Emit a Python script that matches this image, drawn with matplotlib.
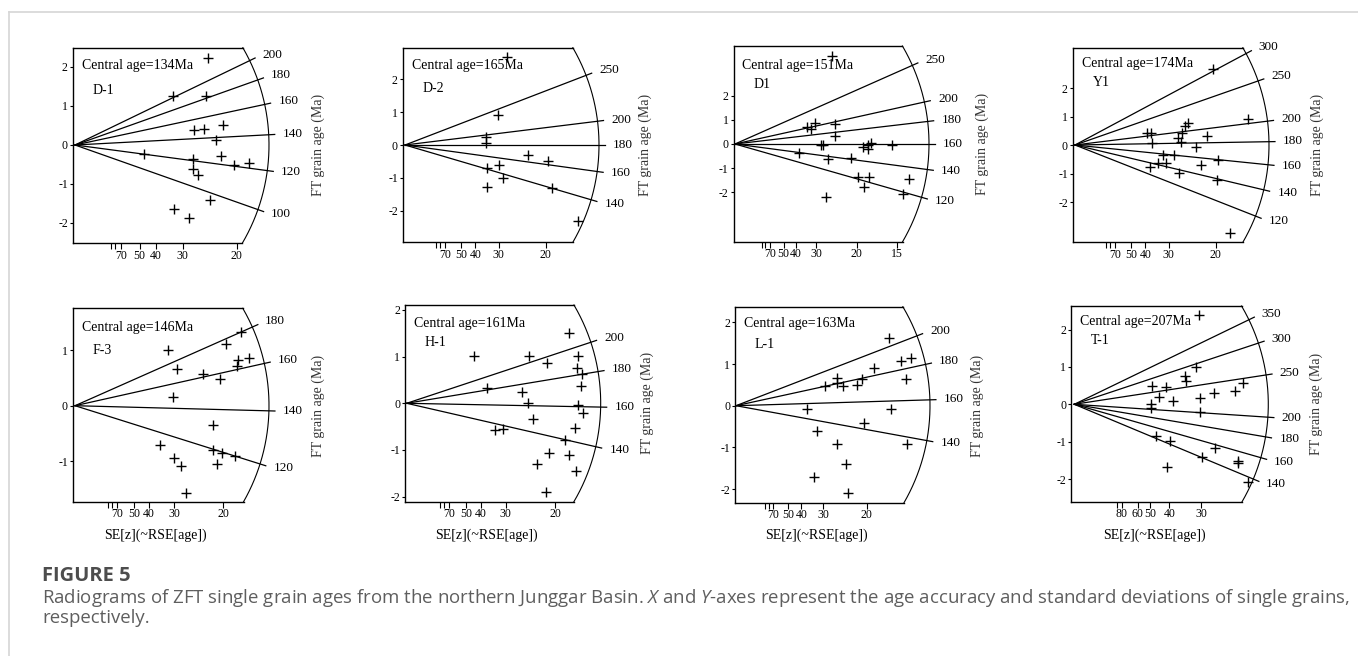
import numpy as np
import matplotlib
matplotlib.use("Agg")
import matplotlib.pyplot as plt
from matplotlib.lines import Line2D

W, H = 1358, 656

# samples, central ages and the reference age the radial scale is centred on
samples = ["D-1", "D-2", "D1", "Y1", "F-3", "H-1", "L-1", "T-1"]
central_ages = [134, 165, 151, 174, 146, 161, 163, 207]
ref_ages = [134, 180, 160, 177, 142, 162, 157, 214]

# age rays of each radial scale (Ma)
age_lines = [
    [200, 180, 160, 140, 120, 100],
    [250, 200, 180, 160, 140],
    [250, 200, 180, 160, 140, 120],
    [300, 250, 200, 180, 160, 140, 120],
    [180, 160, 140, 120],
    [200, 180, 160, 140],
    [200, 180, 160, 140],
    [350, 300, 250, 200, 180, 160, 140],
]

# SE[z] ticks in %, blank label = unlabeled tick
se_ticks = [
    [90, 80, 70, 50, 40, 30, 20],
    [90, 80, 70, 50, 40, 30, 20],
    [90, 80, 70, 50, 40, 30, 20, 15],
    [90, 80, 70, 50, 40, 30, 20],
    [90, 80, 70, 50, 40, 30, 20],
    [90, 80, 70, 50, 40, 30, 20],
    [90, 80, 70, 50, 40, 30, 20],
    [90, 80, 60, 50, 40, 30],
]
se_labels = [
    ["", "", "70", "50", "40", "30", "20"],
    ["", "", "70", "50", "40", "30", "20"],
    ["", "", "70", "50", "40", "30", "20", "15"],
    ["", "", "70", "50", "40", "30", "20"],
    ["", "", "70", "50", "40", "30", "20"],
    ["", "", "70", "50", "40", "30", "20"],
    ["", "", "70", "50", "40", "30", "20"],
    ["", "80", "60", "50", "40", "30"],
]
y_ticks = [
    [-2, -1, 0, 1, 2], [-2, -1, 0, 1, 2], [-2, -1, 0, 1, 2], [-2, -1, 0, 1, 2],
    [-1, 0, 1], [-2, -1, 0, 1, 2], [-2, -1, 0, 1, 2], [-2, -1, 0, 1, 2],
]

# single grains: precision (100/SE%) and standardised estimate
d_1_x = [4.10, 3.02, 4.05, 3.68, 3.99, 4.57, 4.36, 2.14, 3.64, 4.52, 3.64, 3.81, 4.93, 5.39, 4.18, 3.06, 3.53]
d_1_y = [2.24, 1.26, 1.26, 0.38, 0.41, 0.51, 0.13, -0.23, -0.36, -0.27, -0.62, -0.77, -0.51, -0.45, -1.41, -1.64, -1.88]

d_2_x = [3.62, 3.32, 2.88, 2.88, 4.37, 5.08, 2.91, 3.36, 3.48, 2.91, 5.24, 6.17]
d_2_y = [2.66, 0.91, 0.25, 0.07, -0.30, -0.48, -0.69, -0.61, -1.01, -1.27, -1.32, -2.30]

d1_x = [3.97, 2.95, 3.12, 3.29, 4.11, 4.11, 3.52, 3.63, 2.64, 3.84, 4.75, 5.27, 5.48, 5.58, 5.45, 6.44,
        5.04, 5.51, 5.32, 3.74, 7.16, 6.89]
d1_y = [3.64, 0.72, 0.61, 0.86, 0.83, 0.33, -0.06, -0.06, -0.36, -0.63, -0.59, -0.14, -0.04, 0.03, -0.22, -0.04,
        -1.38, -1.38, -1.77, -2.21, -1.46, -2.08]

y1_x = [4.89, 6.16, 2.55, 2.69, 2.73, 3.91, 4.00, 3.79, 3.67, 3.76, 4.70, 4.29, 3.12, 3.52, 2.96, 3.23,
        2.67, 4.47, 3.71, 5.09, 5.04, 5.51]
y1_y = [2.67, 0.90, 0.43, 0.43, 0.06, 0.67, 0.76, 0.43, 0.23, 0.12, 0.32, -0.08, -0.35, -0.35, -0.64, -0.62,
        -0.76, -0.70, -0.97, -0.53, -1.23, -3.08]

f_3_x = [3.12, 5.60, 5.09, 5.51, 5.87, 5.45, 3.45, 4.30, 4.89, 3.31, 4.66, 2.87, 4.64, 4.94, 5.39, 3.35, 3.56, 4.78, 3.73]
f_3_y = [1.00, 1.32, 1.11, 0.83, 0.86, 0.71, 0.67, 0.58, 0.49, 0.16, -0.35, -0.70, -0.80, -0.86, -0.91, -0.94,
         -1.09, -1.05, -1.57]

h_1_x = [5.48, 2.27, 4.13, 4.72, 5.79, 5.73, 5.92, 5.88, 2.70, 3.88, 4.10, 5.79, 5.93, 4.25, 2.98, 3.24,
         5.67, 5.34, 4.78, 4.38, 5.48, 5.70, 4.70]
h_1_y = [1.50, 1.01, 1.01, 0.86, 1.01, 0.75, 0.62, 0.36, 0.32, 0.24, 0.00, -0.04, -0.20, -0.34, -0.57, -0.54,
         -0.52, -0.79, -1.07, -1.31, -1.11, -1.45, -1.89]

l_1_x = [5.87, 6.30, 6.68, 5.29, 3.85, 3.85, 3.41, 4.08, 4.83, 4.62, 6.49, 2.70, 5.93, 3.09, 4.91, 3.88,
         6.53, 4.21, 3.00, 4.27]
l_1_y = [1.63, 1.08, 1.15, 0.91, 0.67, 0.54, 0.47, 0.47, 0.63, 0.50, 0.63, -0.09, -0.09, -0.60, -0.41, -0.92,
         -0.92, -1.41, -1.70, -2.09]

t_1_x = [3.28, 3.20, 2.91, 2.93, 2.04, 2.41, 4.45, 4.23, 3.68, 2.24, 2.59, 3.31, 2.02, 2.01, 3.31, 2.15,
         2.52, 3.35, 3.70, 4.32, 4.32, 4.56, 2.45]
t_1_y = [2.39, 1.01, 0.76, 0.61, 0.49, 0.45, 0.56, 0.36, 0.31, 0.20, 0.10, 0.16, 0.01, -0.11, -0.20, -0.84,
         -0.97, -1.40, -1.18, -1.52, -1.56, -2.09, -1.68]

grain_x = [d_1_x, d_2_x, d1_x, y1_x, f_3_x, h_1_x, l_1_x, t_1_x]
grain_y = [d_1_y, d_2_y, d1_y, y1_y, f_3_y, h_1_y, l_1_y, t_1_y]

# layout in pixels: origin x, origin y, px per x unit, px per y unit, frame top, bottom, left
panel_px = [
    (75, 145, 32.33, 39.0, 47.7, 243.3, 72.7),
    (405, 145, 28.1, 32.9, 47.7, 242.3, 402.7),
    (735, 144, 24.33, 24.17, 46, 241.7, 733.5),
    (1075, 145, 28.13, 28.5, 47.7, 242.3, 1072.7),
    (75, 405.7, 29.67, 55.5, 308.3, 501.7, 72.7),
    (406.7, 403.3, 29.67, 46.67, 305, 501.7, 405),
    (736, 405.7, 26.13, 41.67, 306.7, 502.7, 735),
    (1074.3, 404.3, 38, 37.4, 306, 501.7, 1071),
]
# text positions (px): central age y, sample name y, axis title x
text_px = [
    (65, 91, 318), (65, 88, 645), (65, 84, 982), (63, 83, 1317),
    (327, 351, 318), (324, 343, 647), (323, 344, 977), (322, 341, 1316),
]

R_ARC = 194
R_LINE = 200
R_LAB = 208

plt.rcParams['font.family'] = ['Liberation Serif', 'DejaVu Serif']
plt.rcParams['axes.unicode_minus'] = False
plt.rcParams['mathtext.fontset'] = 'custom'
plt.rcParams['mathtext.rm'] = 'Open Sans'
plt.rcParams['mathtext.it'] = 'Open Sans:italic'

fig = plt.figure(figsize=(W / 100, H / 100), dpi=100)

# page frame
fig.add_artist(Line2D([9 / W, 1], [1 - 12 / H, 1 - 12 / H], color='#d6d6d6', lw=1.2))
fig.add_artist(Line2D([9 / W, 9 / W], [0, 1 - 12 / H], color='#d6d6d6', lw=1.2))

for i in range(8):
    ox, oy, sx, sy, top, bot, left = panel_px[i]
    right = ox + R_ARC + 2
    ax = fig.add_axes([left / W, 1 - bot / H, (right - left) / W, (bot - top) / H])
    ax.patch.set_alpha(0)
    x0, x1 = (left - ox) / sx, (right - ox) / sx
    y0, y1 = (oy - bot) / sy, (oy - top) / sy
    ax.set_xlim(x0, x1)
    ax.set_ylim(y0, y1)

    # outer arc
    th = np.linspace(np.arcsin(max(y0 * sy / R_ARC, -1)), np.arcsin(min(y1 * sy / R_ARC, 1)), 200)
    ax.plot(R_ARC * np.cos(th) / sx, R_ARC * np.sin(th) / sy, color='k', lw=0.8, clip_on=False)

    for s in ['top', 'bottom', 'left']:
        ax.spines[s].set_linewidth(1.0)
    ax.spines['right'].set_visible(False)
    ax.spines['top'].set_bounds(x0, R_ARC * np.cos(th[-1]) / sx)
    ax.spines['bottom'].set_bounds(x0, R_ARC * np.cos(th[0]) / sx)

    # age rays
    for t in age_lines[i]:
        m = np.log(t / ref_ages[i])
        d = np.hypot(sx, m * sy)
        ax.plot([0, R_LINE / d], [0, R_LINE * m / d], color='k', lw=0.9, clip_on=False)
        ax.text(R_LAB / d, R_LAB * m / d, str(t), ha='left', va='center', fontsize=9.5, clip_on=False)

    ax.plot(grain_x[i], grain_y[i], '+', color='k', ms=7, mew=1.0, clip_on=False)

    ax.set_xticks([100 / s for s in se_ticks[i]], se_labels[i])
    ax.set_yticks(y_ticks[i], [str(v) for v in y_ticks[i]])
    ax.tick_params(axis='x', direction='out', length=4, width=0.8, labelsize=8.5, pad=0.5)
    ax.tick_params(axis='y', direction='out', length=2.5, width=0.8, labelsize=8.5, pad=1)

    cy, ny, tx = text_px[i]
    fig.text((left + 9) / W, 1 - cy / H, "Central age=%dMa" % central_ages[i],
             ha='left', va='center', fontsize=10)
    fig.text((left + 20) / W, 1 - ny / H, samples[i], ha='left', va='center', fontsize=10)
    fig.text(tx / W, 1 - oy / H, "FT grain age (Ma)", rotation=90, ha='center', va='center',
             fontsize=10, color='#333333')
    if i >= 4:
        fig.text((ox + 80) / W, 1 - 535 / H, "SE[z](~RSE[age])", ha='center', va='center', fontsize=10)

# caption
fig.text(42 / W, 1 - 576 / H, "FIGURE 5", ha='left', va='center', fontsize=14.5,
         fontweight='bold', color='#4d4d4d', family='Open Sans')
fig.text(42 / W, 1 - 598 / H,
         "Radiograms of ZFT single grain ages from the northern Junggar Basin. $\\it{X}$ and $\\it{Y}$-axes "
         "represent the age accuracy and standard deviations of single grains,",
         ha='left', va='center', fontsize=13.4, color='#5e5e5e', family='Open Sans')
fig.text(42 / W, 1 - 618 / H, "respectively.", ha='left', va='center', fontsize=13.4,
         color='#5e5e5e', family='Open Sans')

fig.savefig("out.png", dpi=100)
